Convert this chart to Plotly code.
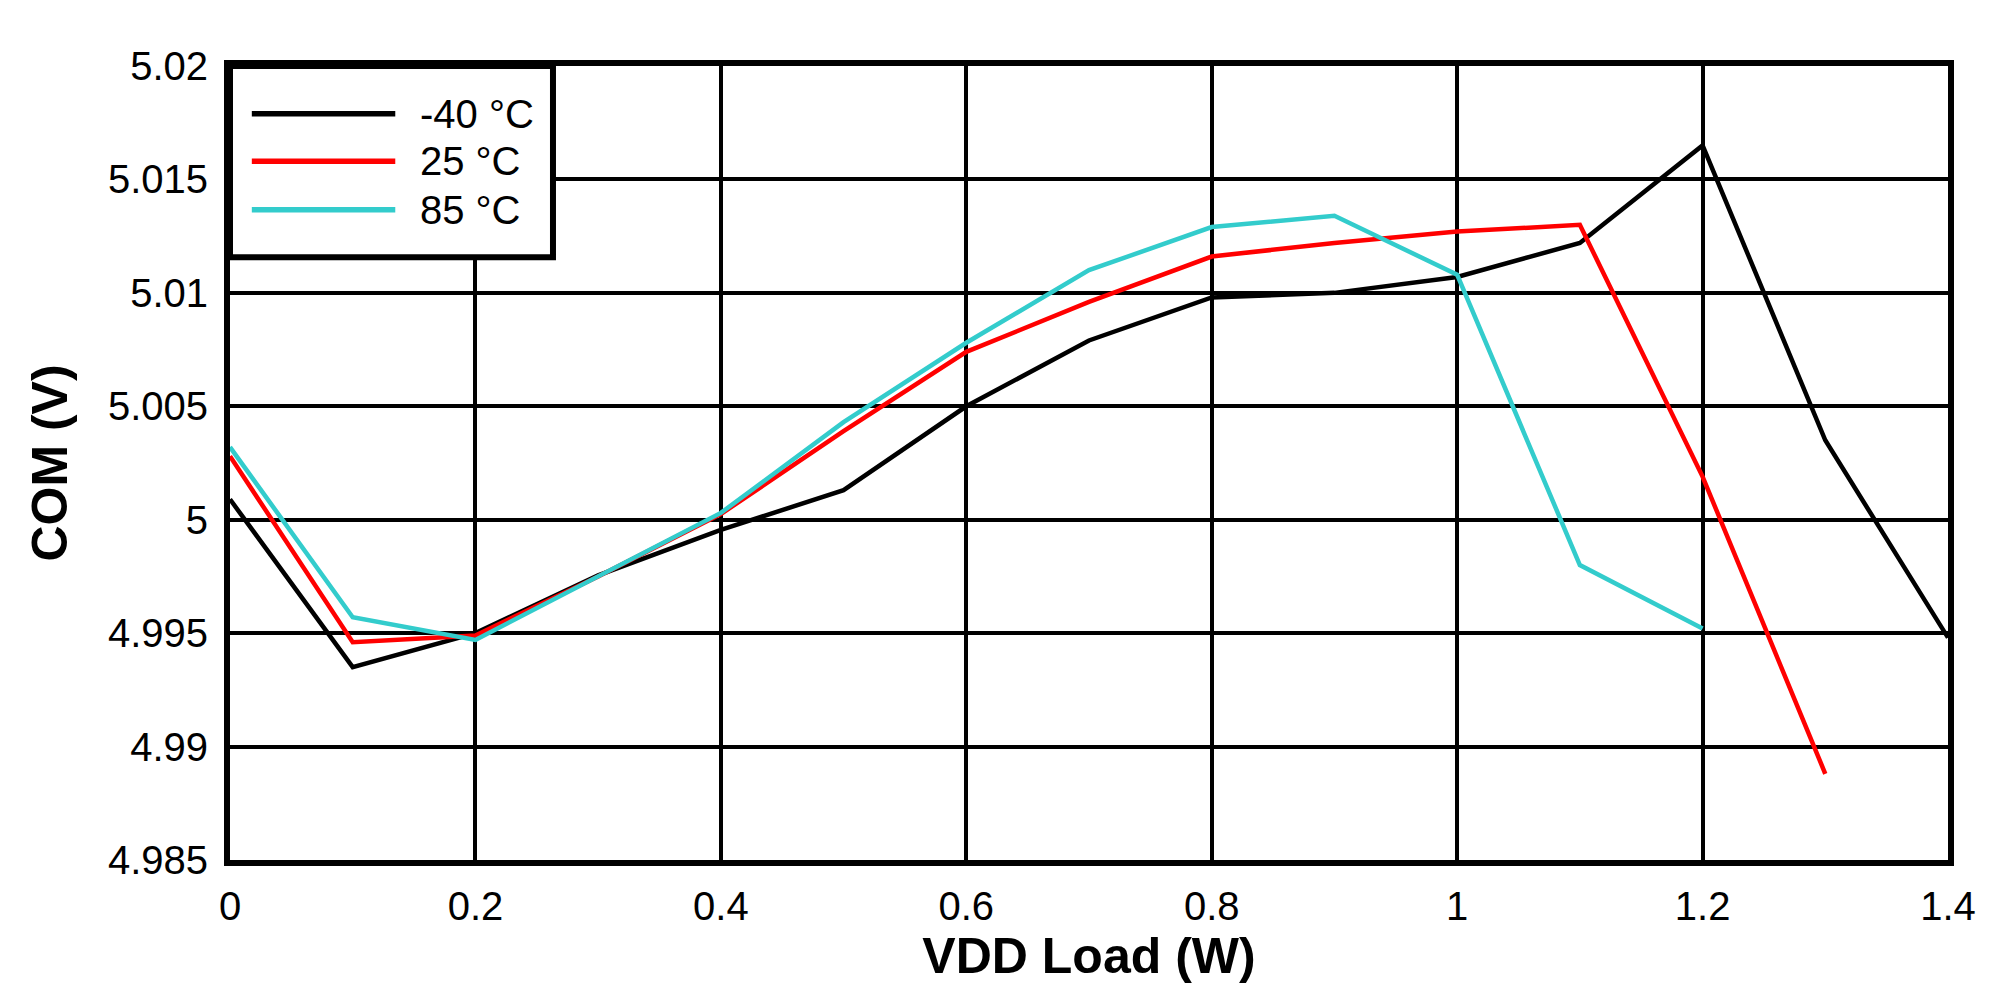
import plotly.graph_objects as go

load_w = [0, 0.1, 0.2, 0.3, 0.4, 0.5, 0.6, 0.7, 0.8, 0.9, 1.0, 1.1, 1.2, 1.3, 1.4]
com_m40 = [5.0009, 4.9935, 4.9950, 4.99755, 4.99955, 5.0013, 5.0050, 5.0079, 5.0098, 5.0100, 5.0107, 5.0122, 5.0165, 5.0035, 4.9948]
load_25 = [0, 0.1, 0.2, 0.3, 0.4, 0.5, 0.6, 0.7, 0.8, 0.9, 1.0, 1.1, 1.2, 1.3]
com_25 = [5.0028, 4.9946, 4.9949, 4.9975, 5.00025, 5.0039, 5.0074, 5.0096, 5.0116, 5.0122, 5.0127, 5.0130, 5.0019, 4.9888]
load_85 = [0, 0.1, 0.2, 0.3, 0.4, 0.5, 0.6, 0.7, 0.8, 0.9, 1.0, 1.1, 1.2]
com_85 = [5.0032, 4.9957, 4.9947, 4.9975, 5.0003, 5.0043, 5.0078, 5.0110, 5.0129, 5.0134, 5.0108, 4.9980, 4.9952]

series_names = ["-40 °C", "25 °C", "85 °C"]
series_colors = ["#000000", "#FF0000", "#33CCCC"]

x_ticks = [0, 0.2, 0.4, 0.6, 0.8, 1.0, 1.2, 1.4]
x_tick_text = ["0", "0.2", "0.4", "0.6", "0.8", "1", "1.2", "1.4"]
y_ticks = [4.985, 4.99, 4.995, 5.0, 5.005, 5.01, 5.015, 5.02]
y_tick_text = ["4.985", "4.99", "4.995", "5", "5.005", "5.01", "5.015", "5.02"]

FONT = "Liberation Sans, Arial, sans-serif"

fig = go.Figure()
for xs, ys, name, col in zip([load_w, load_25, load_85], [com_m40, com_25, com_85], series_names, series_colors):
    fig.add_trace(go.Scatter(x=xs, y=ys, mode="lines", name=name,
                             line=dict(color=col, width=4.5), showlegend=False))

fig.update_layout(
    width=1997, height=995,
    margin=dict(l=222, r=57, t=58, b=143),
    paper_bgcolor="white", plot_bgcolor="white",
    font=dict(family=FONT, color="black", size=40),
)
fig.update_xaxes(
    range=[0, 1.4], tickvals=x_ticks, ticktext=x_tick_text,
    showgrid=True, gridcolor="black", gridwidth=4,
    showline=True, linecolor="black", linewidth=6, mirror=True,
    zeroline=False, ticks="", ticklabelstandoff=6,
    tickfont=dict(size=40, family=FONT),
    title=dict(text="<b>VDD Load (W)</b>", font=dict(size=50, family=FONT), standoff=8),
)
fig.update_yaxes(
    range=[4.985, 5.02], tickvals=y_ticks, ticktext=y_tick_text,
    showgrid=True, gridcolor="black", gridwidth=4,
    showline=True, linecolor="black", linewidth=6, mirror=True,
    zeroline=False, ticks="", ticklabelstandoff=8,
    tickfont=dict(size=40, family=FONT),
    title=dict(text="<b>COM (V)</b>", font=dict(size=50, family=FONT), standoff=26),
)

# custom legend box (paper coordinates)
fig.add_shape(type="rect", xref="paper", yref="paper", x0=0, x1=0.188, y0=0.759, y1=1,
              line=dict(color="black", width=6), fillcolor="white", layer="above")
row_y = [0.940, 0.880, 0.819]
for name, col, yy in zip(series_names, series_colors, row_y):
    fig.add_shape(type="line", xref="paper", yref="paper", x0=0.0127, x1=0.0962, y0=yy, y1=yy,
                  line=dict(color=col, width=5.5), layer="above")
    fig.add_annotation(xref="paper", yref="paper", x=0.1095, y=yy, text=name, showarrow=False,
                       xanchor="left", yanchor="middle", font=dict(size=40, family=FONT, color="black"))

fig.write_html("out.html")
